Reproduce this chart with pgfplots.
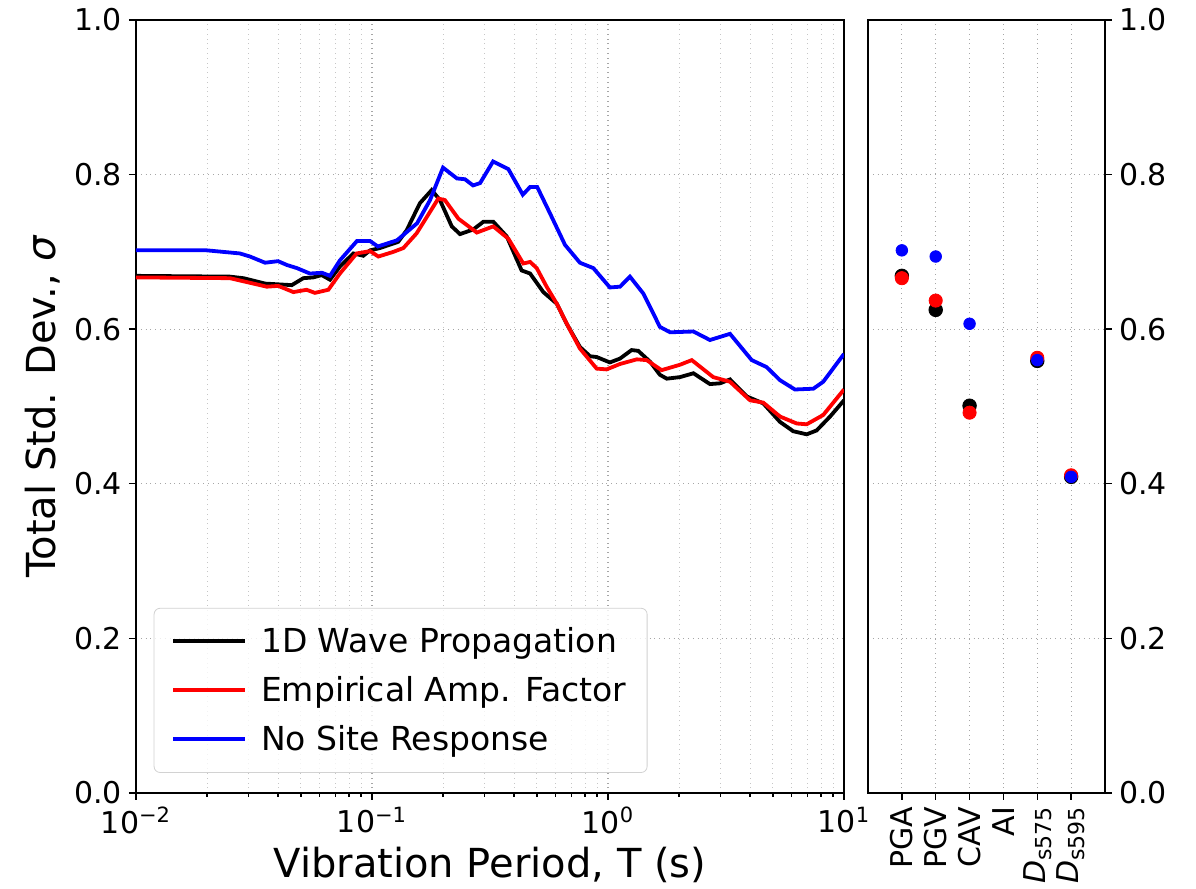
\documentclass[border=0pt]{standalone}
\usepackage{fontspec}
\setmainfont{DejaVu Sans}
\usepackage{pgfplots}
\pgfplotsset{compat=1.18}
\usepackage{pgfplotstable}

\pgfplotstableread{
lx s
-2.0 0.669
-1.602 0.668
-1.545 0.666
-1.453 0.659
-1.340 0.657
-1.291 0.666
-1.249 0.667
-1.213 0.670
-1.178 0.664
-1.136 0.681
-1.079 0.698
-1.037 0.695
-1.008 0.702
-0.966 0.705
-0.889 0.713
-0.853 0.728
-0.797 0.763
-0.747 0.780
-0.712 0.767
-0.662 0.733
-0.627 0.723
-0.571 0.729
-0.528 0.739
-0.486 0.739
-0.429 0.720
-0.366 0.676
-0.330 0.672
-0.274 0.648
-0.217 0.633
-0.175 0.607
-0.119 0.577
-0.076 0.565
-0.048 0.564
0.008 0.557
0.051 0.562
0.100 0.573
0.128 0.572
0.178 0.558
0.220 0.541
0.249 0.536
0.305 0.538
0.362 0.543
0.432 0.529
0.475 0.530
0.517 0.535
0.588 0.513
0.658 0.504
0.729 0.480
0.785 0.468
0.842 0.464
0.884 0.469
0.941 0.487
1.0 0.508
}\wave

\pgfplotstableread{
lx s
-2.0 0.667
-1.602 0.666
-1.531 0.661
-1.446 0.655
-1.397 0.656
-1.333 0.648
-1.277 0.651
-1.242 0.647
-1.185 0.651
-1.136 0.672
-1.065 0.698
-1.008 0.701
-0.973 0.694
-0.910 0.700
-0.867 0.705
-0.811 0.724
-0.768 0.745
-0.719 0.769
-0.691 0.767
-0.634 0.743
-0.556 0.725
-0.486 0.733
-0.422 0.717
-0.359 0.685
-0.330 0.687
-0.302 0.679
-0.260 0.655
-0.217 0.633
-0.168 0.603
-0.119 0.575
-0.048 0.549
-0.006 0.548
0.051 0.555
0.122 0.561
0.164 0.560
0.227 0.547
0.305 0.554
0.355 0.560
0.446 0.538
0.517 0.532
0.602 0.508
0.658 0.505
0.729 0.487
0.800 0.478
0.842 0.477
0.912 0.489
1.0 0.522
}\empamp

\pgfplotstableread{
lx s
-2.0 0.702
-1.70 0.702
-1.56 0.698
-1.517 0.694
-1.453 0.686
-1.398 0.688
-1.360 0.683
-1.318 0.679
-1.263 0.672
-1.212 0.673
-1.178 0.669
-1.136 0.689
-1.064 0.714
-1.008 0.714
-0.975 0.707
-0.894 0.715
-0.809 0.737
-0.754 0.767
-0.699 0.809
-0.640 0.795
-0.606 0.794
-0.572 0.786
-0.542 0.789
-0.487 0.817
-0.422 0.807
-0.361 0.774
-0.330 0.784
-0.300 0.784
-0.246 0.750
-0.182 0.709
-0.119 0.686
-0.062 0.679
0.008 0.654
0.051 0.655
0.093 0.668
0.150 0.646
0.220 0.603
0.263 0.596
0.362 0.597
0.432 0.586
0.517 0.594
0.609 0.560
0.672 0.551
0.729 0.534
0.792 0.522
0.870 0.523
0.912 0.532
1.0 0.568
}\nosite

\begin{document}
\begin{tikzpicture}
\useasboundingbox (-68pt,-48pt) rectangle (530pt,396.5pt);
\pgfplotsset{
  every axis/.append style={
    scale only axis,
    axis line style={line width=0.8pt},
    tick style={black, line width=0.7pt},
    major tick length=3.5pt,
    minor tick length=2pt,
    tick align=outside,
    tick label style={font=\fontsize{15}{18}\selectfont},
    label style={font=\fontsize{20}{24}\selectfont},
    ymin=0, ymax=1,
    ytick={0,0.2,0.4,0.6,0.8,1.0},
    yticklabels={0.0,0.2,0.4,0.6,0.8,1.0},
  }
}
\begin{axis}[
  at={(0pt,0pt)}, anchor=south west,
  width=354pt, height=386.5pt,
  xmin=-2, xmax=1,
  xtick={-2,-1,0,1},
  xticklabels={{10\textsuperscript{−2}},{10\textsuperscript{−1}},{10\textsuperscript{0}},{10\textsuperscript{1}}},
  minor xtick={-1.699,-1.523,-1.398,-1.301,-1.222,-1.155,-1.097,-1.046,-0.699,-0.523,-0.398,-0.301,-0.222,-0.155,-0.097,-0.046,0.301,0.477,0.602,0.699,0.778,0.845,0.903,0.954},
  xtick pos=bottom, ytick pos=left,
  xmajorgrids, ymajorgrids, xminorgrids,
  major grid style={dotted, line width=0.6pt, gray!70},
  minor grid style={dotted, line width=0.5pt, gray!45},
  xlabel={Vibration Period, T (s)},
  ylabel={Total Std. Dev., \textit{σ}},
  legend style={at={(0.025,0.026)}, anchor=south west,
    font=\fontsize{16.5}{20}\selectfont, draw=gray!35, rounded corners=3pt,
    fill=white, fill opacity=0.8, text opacity=1,
    row sep=6.5pt, inner xsep=8.5pt, inner ysep=7.5pt},
  legend cell align=left,
  legend image code/.code={\draw[#1, line width=2pt] (0pt,0pt) -- (36pt,0pt);},
]
\addplot[black, line width=1.9pt] table[x=lx, y=s] {\wave};
\addlegendentry{\hspace{5pt}1D Wave Propagation}
\addplot[red, line width=1.9pt] table[x=lx, y=s] {\empamp};
\addlegendentry{\hspace{5pt}Empirical Amp. Factor}
\addplot[blue, line width=1.9pt] table[x=lx, y=s] {\nosite};
\addlegendentry{\hspace{5pt}No Site Response}
\end{axis}

\begin{axis}[
  at={(366pt,0pt)}, anchor=south west,
  width=118.5pt, height=386.5pt,
  xmin=-1, xmax=6,
  xtick={0,1,2,3,4,5},
  xticklabels={PGA,PGV,CAV,AI,{\textit{D}\raisebox{-3pt}{\fontsize{11}{12}\selectfont s575}},{\textit{D}\raisebox{-3pt}{\fontsize{11}{12}\selectfont s595}}},
  xticklabel style={rotate=90, anchor=east},
  xtick pos=bottom, ytick pos=right, yticklabel pos=right,
  xmajorgrids, ymajorgrids,
  major grid style={dotted, line width=0.6pt, gray!70},
]
\addplot[only marks, mark=*, mark size=3.4pt, black] coordinates {(0,0.669) (1,0.625) (2,0.501) (4,0.559) (5,0.409)};
\addplot[only marks, mark=*, mark size=3.3pt, red] coordinates {(0,0.666) (1,0.637) (2,0.492) (4,0.563) (5,0.411)};
\addplot[only marks, mark=*, mark size=2.9pt, blue] coordinates {(0,0.702) (1,0.694) (2,0.607) (4,0.560) (5,0.409)};
\end{axis}
\end{tikzpicture}
\end{document}
